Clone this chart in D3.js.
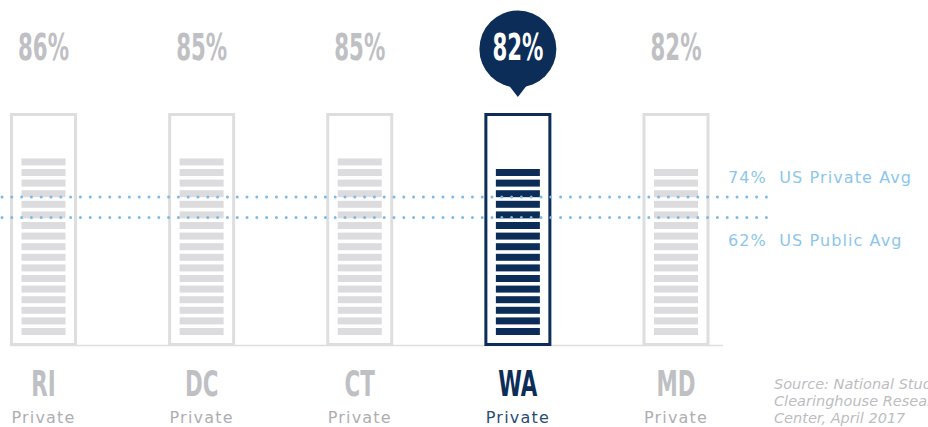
<!DOCTYPE html>
<html>
<head>
<meta charset="utf-8">
<script src="https://cdn.jsdelivr.net/npm/d3@7"></script>
<style>
  html, body { margin: 0; padding: 0; background: #fff; overflow: hidden; }
  svg { display: block; }
</style>
</head>
<body>
<div id="chart"></div>
<script>
// chart data
const states = ["RI", "DC", "CT", "WA", "MD"];
const sectors = ["Private", "Private", "Private", "Private", "Private"];
const rates = [86, 85, 85, 82, 82];
const highlight = "WA";

const averages = [74, 62];
const averageLabels = ["74%  US Private Avg", "62%  US Public Avg"];

const sourceLines = ["Source: National Student", "Clearinghouse Research", "Center, April 2017"];

// each stripe stands for 5 percentage points
const stripeStep = 5;

const width = 928, height = 427;
const navy = "#0b2d57", grey = "#bfc0c4", light = "#dedede", blue = "#7bbbe7";

const svg = d3.select("#chart")
  .append("svg")
  .attr("width", width)
  .attr("height", height);

// column centres
const x = d3.scalePoint()
  .domain(states)
  .range([43.5, 676]);

// stripe position scale (percent -> top of stripe)
const y = d3.scaleLinear()
  .domain([0, 100])
  .range([338.6, 126.6]);

// dotted average lines
const yAvg = d3.scaleLinear()
  .domain([62, 74])
  .range([217.5, 197]);

const colW = 64, stripeW = 44, stripeH = 7;

// baseline
svg.append("line")
  .attr("x1", 10).attr("x2", 723)
  .attr("y1", 345.5).attr("y2", 345.5)
  .attr("stroke", light).attr("stroke-width", 1.5);

// bubble for highlighted state (drawn before the labels)
const hx = x(highlight);
svg.append("path")
  .attr("d", `M${hx - 10},84 L${hx},97 L${hx + 10},84 Z`)
  .attr("fill", navy);
svg.append("circle")
  .attr("cx", hx).attr("cy", 49).attr("r", 38.5)
  .attr("fill", navy);

const cols = svg.selectAll("g.col")
  .data(states.map((s, i) => ({ state: s, sector: sectors[i], rate: rates[i] })))
  .enter()
  .append("g")
  .attr("class", "col")
  .attr("transform", d => `translate(${x(d.state)},0)`);

// outline
cols.append("rect")
  .attr("x", -colW / 2)
  .attr("y", 114.5)
  .attr("width", colW)
  .attr("height", 230)
  .attr("fill", "#fff")
  .attr("stroke", d => d.state === highlight ? navy : light)
  .attr("stroke-width", 3);

// stripes
cols.selectAll("rect.stripe")
  .data(d => d3.range(1, Math.floor(d.rate / stripeStep) + 1).map(k => ({ k: k, hi: d.state === highlight })))
  .enter()
  .append("rect")
  .attr("class", "stripe")
  .attr("x", -stripeW / 2)
  .attr("y", d => y(d.k * stripeStep))
  .attr("width", stripeW)
  .attr("height", stripeH)
  .attr("fill", d => d.hi ? navy : "#dcdcde");

// average lines
svg.selectAll("line.avg")
  .data(averages)
  .enter()
  .append("line")
  .attr("class", "avg")
  .attr("x1", 2).attr("x2", 770)
  .attr("y1", d => yAvg(d)).attr("y2", d => yAvg(d))
  .attr("stroke", blue)
  .attr("stroke-width", 3)
  .attr("stroke-linecap", "round")
  .attr("stroke-dasharray", "0 9.8");

svg.selectAll("text.avgLabel")
  .data(averages)
  .enter()
  .append("text")
  .attr("class", "avgLabel")
  .attr("x", 728)
  .attr("y", (d, i) => i === 0 ? yAvg(d) - 14 : yAvg(d) + 28)
  .attr("font-family", "DejaVu Sans, sans-serif")
  .attr("font-size", 16)
  .attr("letter-spacing", 1.1)
  .attr("fill", "#8cc6ec")
  .attr("xml:space", "preserve")
  .text((d, i) => averageLabels[i]);

// condensed bold labels
const condensed = "'Liberation Sans Narrow', 'DejaVu Sans Condensed', sans-serif";

cols.append("text")
  .attr("text-anchor", "middle")
  .attr("transform", "translate(0,60) scale(0.64,1)")
  .attr("font-family", condensed)
  .attr("font-weight", "bold")
  .attr("font-size", 37)
  .attr("fill", d => d.state === highlight ? "#fff" : grey)
  .text(d => d.rate + "%");

cols.append("text")
  .attr("text-anchor", "middle")
  .attr("transform", "translate(0,396) scale(0.68,1)")
  .attr("font-family", condensed)
  .attr("font-weight", "bold")
  .attr("font-size", 35)
  .attr("fill", d => d.state === highlight ? navy : grey)
  .text(d => d.state);

cols.append("text")
  .attr("text-anchor", "middle")
  .attr("y", 423)
  .attr("font-family", "DejaVu Sans, sans-serif")
  .attr("font-size", 16)
  .attr("letter-spacing", 1.2)
  .attr("fill", d => d.state === highlight ? "#2b4c72" : "#aeaeb2")
  .text(d => d.sector);

// source note
svg.append("g")
  .selectAll("text")
  .data(sourceLines)
  .enter()
  .append("text")
  .attr("x", 774)
  .attr("y", (d, i) => 389 + i * 17)
  .attr("font-family", "DejaVu Sans, sans-serif")
  .attr("font-style", "italic")
  .attr("font-size", 14.5)
  .attr("fill", "#bdbdc1")
  .text(d => d);
</script>
</body>
</html>
